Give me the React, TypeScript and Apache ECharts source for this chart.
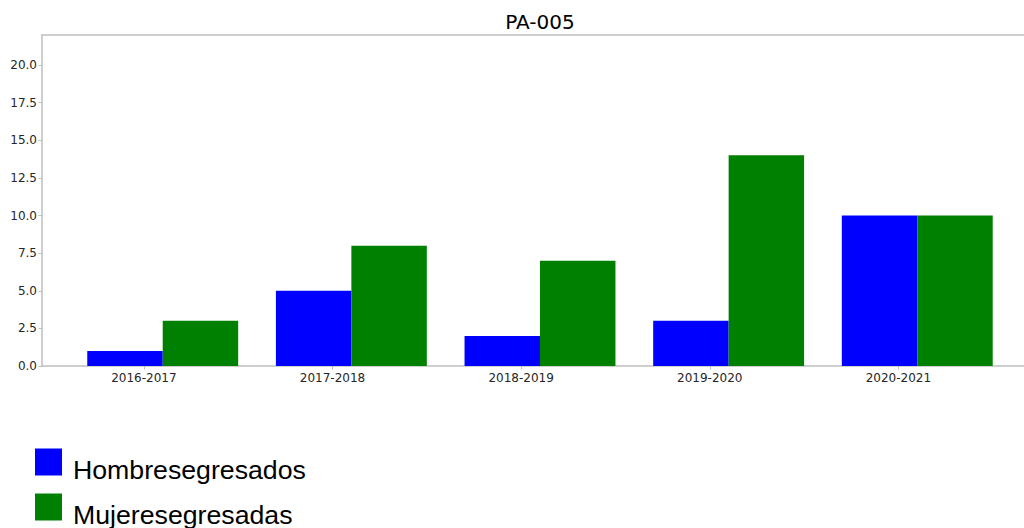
import React, { useEffect, useRef } from "react";
import * as echarts from "echarts";

const title = "PA-005";
const categories = ["2016-2017", "2017-2018", "2018-2019", "2019-2020", "2020-2021"];
const hombres = [1, 5, 2, 3, 10];
const mujeres = [3, 8, 7, 14, 10];
const seriesNames = ["Hombresegresados", "Mujeresegresadas"];
const seriesColors = ["#0000ff", "#008000"];
const yTicks = [0, 2.5, 5, 7.5, 10, 12.5, 15, 17.5, 20];
// horizontal placement of each series' bar relative to its category tick (as in the source plot)
const barOffsets = [-0.1, 0.3];

export default function App() {
  const ref = useRef<HTMLDivElement>(null);
  useEffect(() => {
    const chart = echarts.init(ref.current!, null, { renderer: "svg" });
    const tickFont = { fontFamily: "DejaVu Sans", fontSize: 12, color: "#262626" };
    const spine = { show: true, onZero: false, lineStyle: { color: "#bfbfbf", width: 1.5 } };
    const catIdx = categories.map((_, i) => i);
    chart.setOption({
      animation: false,
      title: {
        text: title,
        left: 535,
        textAlign: "center",
        top: 7,
        textStyle: { fontFamily: "DejaVu Sans", fontSize: 20, fontWeight: "normal", color: "#000" },
      },
      legend: {
        orient: "vertical",
        left: 35,
        top: 440.5,
        height: 300,
        padding: 0,
        itemWidth: 27,
        itemHeight: 27,
        itemGap: 2,
        icon: "rect",
        data: seriesNames,
        formatter: (name: string) => "\n" + name,
        textStyle: {
          fontFamily: "Liberation Sans",
          fontSize: 26.7,
          color: "#000",
          lineHeight: 16,
          padding: [0, 0, 0, 6],
        },
      },
      grid: {
        left: 42,
        top: 35,
        bottom: 162,
        right: -14,
        show: false,
        containLabel: false,
        outerBoundsMode: "none",
      },
      xAxis: [
        {
          type: "value",
          min: -0.54,
          max: 4.74,
          splitLine: { show: false },
          axisLine: spine,
          axisTick: { show: true, length: 3.5, lineStyle: { color: "#bfbfbf" }, customValues: catIdx },
          axisLabel: {
            ...tickFont,
            margin: 6,
            customValues: catIdx,
            formatter: (v: number) => categories[Math.round(v)] ?? "",
          },
        },
        {
          type: "value",
          position: "top",
          min: -0.54,
          max: 4.74,
          splitLine: { show: false },
          axisLine: spine,
          axisTick: { show: false },
          axisLabel: { show: false },
        },
      ],
      yAxis: {
        type: "value",
        min: 0,
        max: 22,
        splitLine: { show: false },
        axisLine: spine,
        axisTick: { show: true, length: 3.5, lineStyle: { color: "#bfbfbf" }, customValues: yTicks },
        axisLabel: {
          ...tickFont,
          margin: 5,
          customValues: yTicks,
          formatter: (v: number) => v.toFixed(1),
        },
      },
      series: [hombres, mujeres].map((vals, s) => ({
        name: seriesNames[s],
        type: "bar",
        data: vals.map((v, i) => [i + barOffsets[s], v]),
        barWidth: "100%",
        barGap: "-100%",
        itemStyle: { color: seriesColors[s] },
      })),
    });
    return () => chart.dispose();
  }, []);
  return <div ref={ref} style={{ width: 1024, height: 528, position: "absolute", left: 0, top: 0 }} />;
}
